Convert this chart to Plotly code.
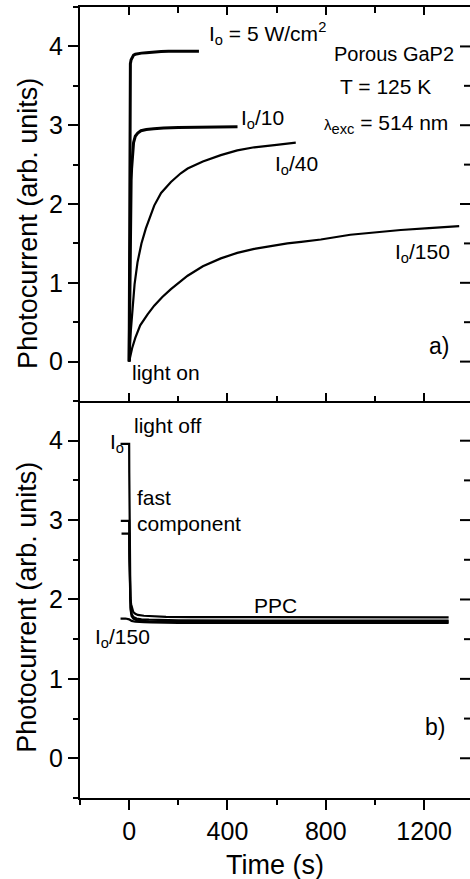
import plotly.graph_objects as go

# ---- panel a): photocurrent rise after light on ----
t_on_I0 = [0, 1, 2, 3, 4, 5, 8, 12, 18, 25, 35, 50, 70, 100, 130, 160, 200, 240, 284]
pc_on_I0 = [0, 0.9, 2.0, 3.1, 3.6, 3.78, 3.83, 3.86, 3.89, 3.90, 3.91, 3.915, 3.92, 3.93, 3.935, 3.94, 3.94, 3.945, 3.94]

t_on_I10 = [0, 2, 4, 6, 8, 10, 14, 18, 25, 35, 48, 70, 100, 140, 200, 280, 360, 441]
pc_on_I10 = [0, 0.9, 1.6, 2.0, 2.3, 2.45, 2.65, 2.78, 2.86, 2.90, 2.93, 2.945, 2.955, 2.965, 2.97, 2.975, 2.98, 2.98]

t_on_I40 = [0, 3, 7, 14, 22, 34, 50, 68, 85, 102, 130, 170, 210, 238, 300, 373, 440, 509, 600, 678]
pc_on_I40 = [0, 0.2, 0.4, 0.67, 0.98, 1.26, 1.50, 1.69, 1.84, 1.98, 2.14, 2.28, 2.39, 2.45, 2.54, 2.62, 2.68, 2.72, 2.75, 2.78]

t_on_I150 = [0, 5, 12, 25, 45, 75, 102, 135, 170, 238, 300, 373, 440, 509, 580, 644, 700, 780, 900, 1000, 1105, 1220, 1343]
pc_on_I150 = [0, 0.08, 0.17, 0.30, 0.46, 0.60, 0.71, 0.82, 0.92, 1.09, 1.21, 1.31, 1.38, 1.43, 1.47, 1.50, 1.52, 1.55, 1.61, 1.64, 1.67, 1.695, 1.72]

# ---- panel b): decay after light off ----
t_off_I0 = [-35, 0, 0.5, 1, 2, 3, 5, 8, 12, 17, 25, 35, 60, 100, 150, 250, 500, 800, 1300]
pc_off_I0 = [3.96, 3.96, 3.6, 3.2, 2.6, 2.15, 2.02, 1.94, 1.88, 1.84, 1.82, 1.805, 1.795, 1.787, 1.78, 1.777, 1.775, 1.775, 1.775]

t_off_I10 = [-34, 0, 1, 3, 6, 10, 17, 30, 50, 80, 130, 200, 500, 1300]
pc_off_I10 = [2.99, 2.99, 2.6, 2.1, 1.9, 1.82, 1.78, 1.76, 1.75, 1.745, 1.74, 1.737, 1.735, 1.735]

t_off_I40 = [-31, 0, 1, 3, 6, 10, 17, 30, 50, 80, 130, 200, 500, 1300]
pc_off_I40 = [2.83, 2.83, 2.5, 2.05, 1.87, 1.79, 1.76, 1.74, 1.73, 1.725, 1.72, 1.72, 1.72, 1.72]

t_off_I150 = [-35, -15, 0, 10, 25, 40, 60, 90, 130, 200, 500, 1300]
pc_off_I150 = [1.76, 1.76, 1.75, 1.73, 1.72, 1.72, 1.715, 1.71, 1.705, 1.705, 1.705, 1.705]

# tick values of the photocurrent axes
Y_MAJOR = [0, 1, 2, 3, 4]
Y_MINOR = [0.5, 1.5, 2.5, 3.5]

FONT = "Arial, Liberation Sans, sans-serif"
BLACK = "#000000"

fig = go.Figure()

def curve(x, y, xa, ya, width):
    fig.add_trace(go.Scatter(x=x, y=y, xaxis=xa, yaxis=ya, mode="lines",
                             line=dict(color=BLACK, width=width),
                             showlegend=False, hoverinfo="skip"))

curve(t_on_I0, pc_on_I0, "x2", "y2", 3)
curve(t_on_I10, pc_on_I10, "x2", "y2", 3)
curve(t_on_I40, pc_on_I40, "x2", "y2", 2.2)
curve(t_on_I150, pc_on_I150, "x2", "y2", 2.2)

curve(t_off_I0, pc_off_I0, "x", "y", 2.2)
curve(t_off_I10, pc_off_I10, "x", "y", 2.2)
curve(t_off_I40, pc_off_I40, "x", "y", 2.2)
curve(t_off_I150, pc_off_I150, "x", "y", 2.2)

# transparent anchor trace so the top companion axis of panel a) is drawn
fig.add_trace(go.Scatter(x=[0], y=[0], xaxis="x3", yaxis="y2", mode="markers",
                         marker=dict(size=1, opacity=0), showlegend=False,
                         hoverinfo="skip"))

X_RANGE = [-200, 1387]
Y_RANGE = [-0.5, 4.5]
dom_b = [0.0922, 0.5438]
dom_a = [0.5438, 0.992]

TICK_SIZE = 25
TITLE_SIZE = 27

xbase = dict(range=X_RANGE, showgrid=False, zeroline=False, showline=True,
             linecolor=BLACK, linewidth=2, tickcolor=BLACK, tickwidth=2,
             tick0=0, dtick=400, tickmode="linear")
ybase = dict(range=Y_RANGE, showgrid=False, zeroline=False, tickcolor=BLACK,
             tickwidth=2, tick0=0, dtick=1, tickmode="linear")

fig.update_layout(
    width=470, height=879,
    margin=dict(l=80, r=0, t=0, b=0),
    paper_bgcolor="white", plot_bgcolor="white",
    font=dict(family=FONT, color=BLACK),
    xaxis=dict(**xbase, anchor="y", ticks="outside", ticklen=10,
               tickfont=dict(size=TICK_SIZE, family=FONT),
               minor=dict(dtick=200, tick0=0, ticks="outside", ticklen=5,
                          tickwidth=2, tickcolor=BLACK)),
    xaxis2=dict(**xbase, anchor="y2", ticks="inside", ticklen=8, showticklabels=False,
                minor=dict(dtick=200, tick0=0, ticks="inside", ticklen=5,
                           tickwidth=2, tickcolor=BLACK)),
    xaxis3=dict(**xbase, anchor="y2", overlaying="x2", side="top", ticks="inside",
                ticklen=8, showticklabels=False,
                minor=dict(dtick=200, tick0=0, ticks="inside", ticklen=6,
                           tickwidth=2, tickcolor=BLACK)),
    yaxis=dict(**ybase, domain=dom_b, anchor="x", ticks="outside", ticklen=10,
               showline=True, linecolor=BLACK, linewidth=2,
               tickfont=dict(size=TICK_SIZE, family=FONT),
               minor=dict(dtick=0.5, tick0=0, ticks="outside", ticklen=5,
                          tickwidth=2, tickcolor=BLACK)),
    yaxis2=dict(**ybase, domain=dom_a, anchor="x2", ticks="outside", ticklen=10,
                showline=True, linecolor=BLACK, linewidth=2,
                tickfont=dict(size=TICK_SIZE, family=FONT),
                minor=dict(dtick=0.5, tick0=0, ticks="outside", ticklen=5,
                           tickwidth=2, tickcolor=BLACK)),
)

# inward ticks along the right-hand frame of both panels, at the axis tick values
PLOT_W = 390.0
for xa, ya in (("x", "y"), ("x2", "y2")):
    for vals, length in ((Y_MAJOR, 10), (Y_MINOR, 6)):
        for v in vals:
            fig.add_shape(type="line", xref=f"{xa} domain", yref=ya,
                          x0=1 - length / PLOT_W, x1=1, y0=v, y1=v,
                          line=dict(color=BLACK, width=2))

def label(text, x, y, xa, ya, xanchor="left", size=21):
    fig.add_annotation(text=text, x=x, y=y, xref=xa, yref=ya, xanchor=xanchor,
                       yanchor="middle", showarrow=False,
                       font=dict(size=size, family=FONT, color=BLACK))

# panel a) labels
label("I<sub>o</sub> = 5 W/cm<sup>2</sup>", 318, 4.16, "x2", "y2")
label("Porous GaP2", 1329, 3.91, "x2", "y2", xanchor="right", size=20)
label("T = 125 K", 1044, 3.49, "x2", "y2", xanchor="center")
label("<span style='font-size:15px'>λ</span><sub>exc</sub> = 514 nm", 785, 3.02, "x2", "y2")
label("I<sub>o</sub>/10", 445, 3.08, "x2", "y2")
label("I<sub>o</sub>/40", 586, 2.49, "x2", "y2")
label("I<sub>o</sub>/150", 1075, 1.38, "x2", "y2")
label("light on", 5, -0.14, "x2", "y2")
label("a)", 1212, 0.20, "x2", "y2", size=23)

# panel b) labels
label("light off", 13, 4.19, "x", "y")
label("I<sub>o</sub>", -85, 3.97, "x", "y")
label("fast", 25, 3.29, "x", "y")
label("component", 25, 2.96, "x", "y")
label("PPC", 500, 1.93, "x", "y")
label("I<sub>o</sub>/150", -146, 1.51, "x", "y")
label("b)", 1195, 0.39, "x", "y", size=23)

# axis titles
for yc in (0.7457, 0.3089):
    fig.add_annotation(text="Photocurrent (arb. units)", x=-0.135, y=yc,
                       xref="paper", yref="paper", textangle=-90, showarrow=False,
                       xanchor="center", yanchor="middle",
                       font=dict(size=TITLE_SIZE, family=FONT, color=BLACK))
fig.add_annotation(text="Time (s)", x=0.5, y=0.016, xref="paper", yref="paper",
                   showarrow=False, xanchor="center", yanchor="middle",
                   font=dict(size=TITLE_SIZE, family=FONT, color=BLACK))

fig.write_html("out.html", config={"displayModeBar": False})
